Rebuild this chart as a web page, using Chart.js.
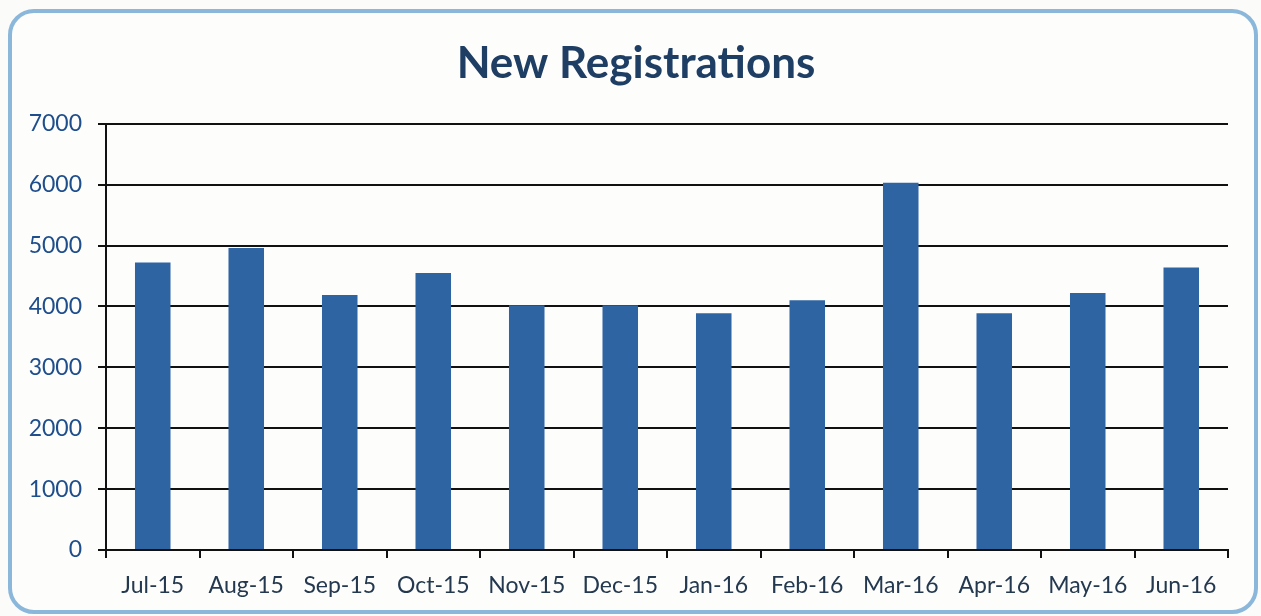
<!DOCTYPE html>
<html lang="en">
<head>
  <meta charset="UTF-8">
  <title>New Registrations</title>
  <script src="https://cdn.jsdelivr.net/npm/chart.js"></script>
  <style>
    body { margin: 0; background: #fbfbfa; }
    .frame {
      position: absolute; left: 8px; top: 9px; width: 1242px; height: 597px;
      border: 4px solid #8bb7da; border-radius: 26px; background: #fdfdfc;
    }
    .wrap { position: absolute; left: 0; top: 0; width: 1261px; height: 616px; }
  </style>
</head>
<body>
  <div class="frame"></div>
  <div class="wrap">
    <canvas id="barChart"></canvas>
  </div>

  <script>
    const months = ['Jul-15', 'Aug-15', 'Sep-15', 'Oct-15', 'Nov-15', 'Dec-15',
                    'Jan-16', 'Feb-16', 'Mar-16', 'Apr-16', 'May-16', 'Jun-16'];
    const registrations = [4720, 4960, 4190, 4550, 4020, 4020, 3890, 4100, 6030, 3890, 4220, 4640];
    const yTicks = [0, 1000, 2000, 3000, 4000, 5000, 6000, 7000];

    // nudge the title a bit right, the original is centred on the frame not the plot
    const titleShift = {
      id: 'titleShift',
      afterLayout(chart) {
        const t = chart.titleBlock;
        if (t) { t.left += 17; t.right += 17; }
      }
    };

    const config = {
      type: 'bar',
      data: {
        labels: months,
        datasets: [{
          label: 'New Registrations',
          data: registrations,
          backgroundColor: '#2f64a3',
          categoryPercentage: 1,
          barPercentage: 0.38
        }]
      },
      options: {
        responsive: true,
        maintainAspectRatio: false,
        animation: false,
        layout: { padding: { left: 10, right: 33, top: 37, bottom: 6 } },
        plugins: {
          legend: { display: false },
          tooltip: { enabled: false },
          title: {
            display: true,
            text: 'New Registrations',
            color: '#1e3e64',
            font: { family: 'Lato', size: 44, weight: 'bold' },
            padding: { top: 0, bottom: 34 }
          }
        },
        scales: {
          x: {
            grid: {
              offset: true,
              drawOnChartArea: false,
              drawTicks: true,
              tickLength: 8,
              color: '#111',
              lineWidth: 2
            },
            border: { color: '#111', width: 2 },
            ticks: {
              color: '#24394f',
              font: { family: 'Lato', size: 23 },
              padding: 14,
              maxRotation: 0
            },
            afterFit: s => { s.height = 60; }
          },
          y: {
            min: 0,
            max: 7000,
            afterBuildTicks: s => { s.ticks = yTicks.map(v => ({ value: v })); },
            grid: { color: '#111', lineWidth: 2, tickLength: 8 },
            border: { color: '#111', width: 2 },
            ticks: {
              color: '#1f4e8c',
              font: { family: 'Lato', size: 23 },
              padding: 16,
              callback: v => String(v)
            },
            afterFit: s => { s.width = 96; }
          }
        }
      },
      plugins: [titleShift]
    };

    new Chart(document.getElementById('barChart'), config);
  </script>
</body>
</html>
